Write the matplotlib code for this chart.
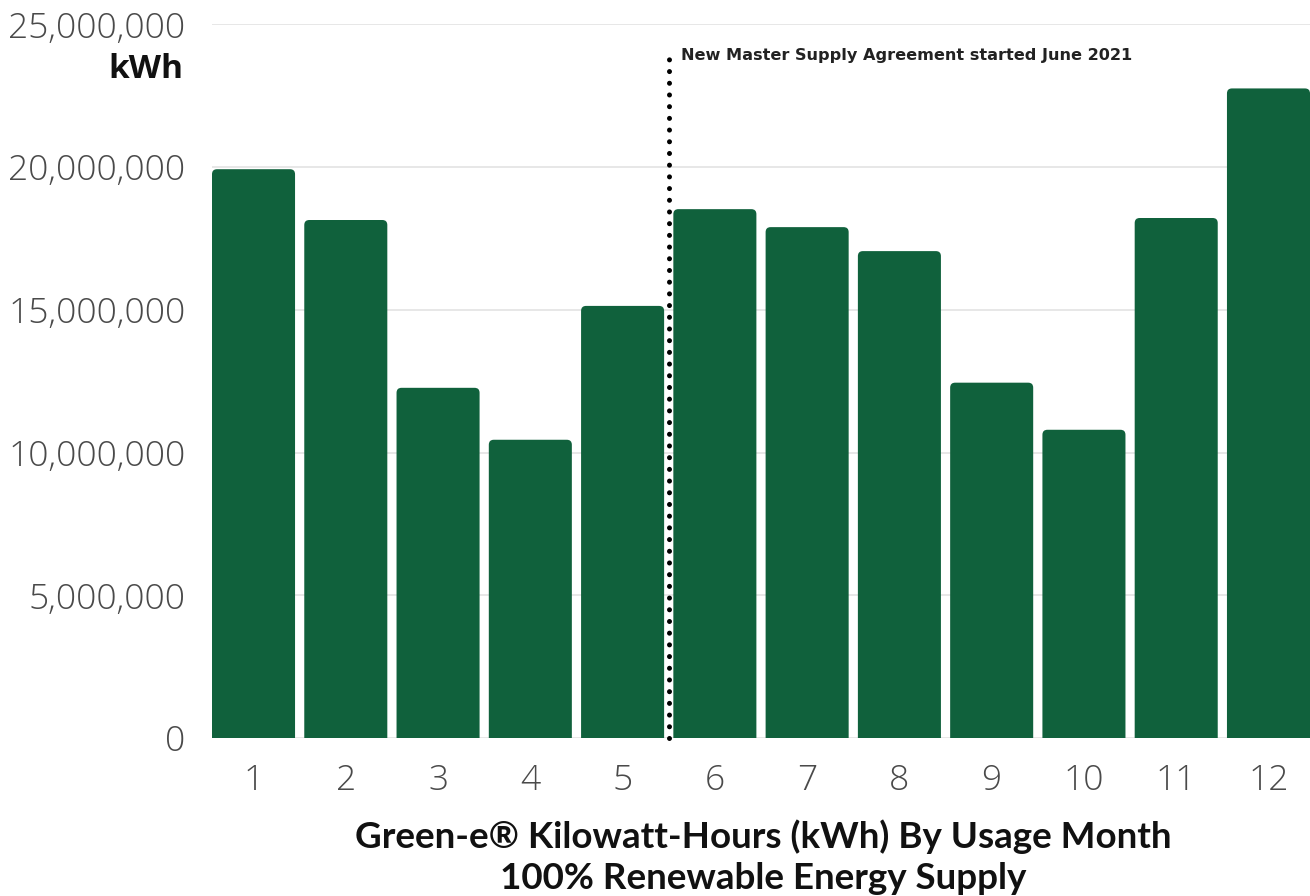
import matplotlib
matplotlib.use("Agg")
import matplotlib.pyplot as plt
from matplotlib.patches import FancyBboxPatch
from matplotlib.ticker import FuncFormatter

months = [1, 2, 3, 4, 5, 6, 7, 8, 9, 10, 11, 12]
kwh = [19930000, 18150000, 12270000, 10450000, 15140000, 18530000,
       17900000, 17060000, 12450000, 10800000, 18220000, 22760000]
yticks = [0, 5000000, 10000000, 15000000, 20000000, 25000000]
annot_text = "New Master Supply Agreement started June 2021"
annot_x = 5.5
annot_top = 23950000
title_lines = ["Green-e® Kilowatt-Hours (kWh) By Usage Month",
               "100% Renewable Energy Supply"]
unit_label = "kWh"

GREEN = "#10613c"
W, H, DPI = 1310, 896, 100

fig = plt.figure(figsize=(W / DPI, H / DPI), dpi=DPI)
ax = fig.add_axes([212 / W, 1 - 738 / H, 1 - 212 / W, (738 - 24.5) / H])
ax.set_xlim(0.55, 12.45)
ax.set_ylim(0, 25000000)

bars = ax.bar(months, kwh, width=0.9, color=GREEN, zorder=2)
# replace with rounded-top bars
px_x = (12.45 - 0.55) / (W - 212)
px_y = 25000000 / (738 - 24.5)
r = 5 * px_x
aspect = px_y / px_x
for b in bars:
    x, w, h = b.get_x(), b.get_width(), b.get_height()
    b.set_visible(False)
    p = FancyBboxPatch((x, -20 * px_y), w, h + 20 * px_y,
                       boxstyle=f"round,pad=0,rounding_size={r}",
                       mutation_aspect=aspect, facecolor=GREEN,
                       edgecolor="none", zorder=2)
    ax.add_patch(p)

ax.set_yticks(yticks)
ax.yaxis.set_major_formatter(FuncFormatter(lambda v, p: f"{int(v):,}"))
ax.set_xticks(months)
ax.grid(axis="y", color="#e3e3e3", linewidth=1.2, zorder=0)
ax.set_axisbelow(True)
for s in ax.spines.values():
    s.set_visible(False)
ax.tick_params(axis="both", length=0, labelsize=25.5, labelcolor="#4a4a4a")
ax.tick_params(axis="y", pad=19)
ax.tick_params(axis="x", pad=18)
for lab in ax.get_xticklabels() + ax.get_yticklabels():
    lab.set_fontfamily("Open Sans")
    lab.set_fontweight("light")

ax.plot([annot_x, annot_x], [0, annot_top], color="black", linewidth=3.6,
        linestyle=(0, (0.01, 2.33)), dash_capstyle="round", zorder=3,
        clip_on=False)
ax.text(annot_x + 0.13, 23900000, annot_text, fontsize=11.6,
        fontweight="bold", family="DejaVu Sans", color="#222222",
        ha="left", va="center")

fig.text(183 / W, 1 - 70 / H, unit_label, fontsize=24, fontweight="bold",
         family="Open Sans", color="#111111", ha="right", va="center")

fig.text(763 / W, 1 - 837 / H, title_lines[0], fontsize=26.5,
         fontweight="bold", family="Lato", color="#111111",
         ha="center", va="center")
fig.text(763 / W, 1 - 878 / H, title_lines[1], fontsize=26.5,
         fontweight="bold", family="Lato", color="#111111",
         ha="center", va="center")

fig.savefig("out.png", dpi=DPI, facecolor="white")
